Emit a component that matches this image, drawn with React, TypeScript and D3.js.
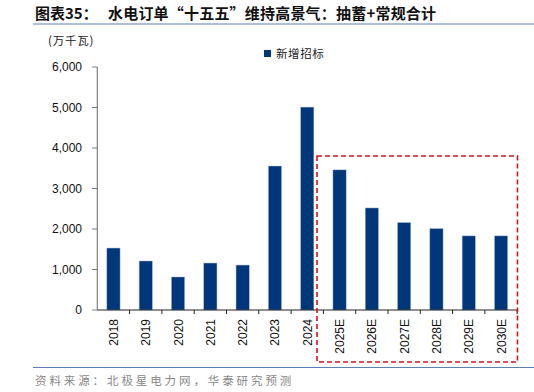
import React from "react";
import * as d3 from "d3";

const categories = ["2018","2019","2020","2021","2022","2023","2024","2025E","2026E","2027E","2028E","2029E","2030E"];
const values = [1530, 1210, 815, 1160, 1110, 3555, 5010, 3460, 2520, 2160, 2010, 1830, 1830];
const yTicks = [0, 1000, 2000, 3000, 4000, 5000, 6000];
const seriesName = "新增招标";
const titleLead = "图表35：";
const titleText = "水电订单“十五五”维持高景气：抽蓄+常规合计";
const unitText = "(万千瓦)";
const sourceText = "资料来源：北极星电力网，华泰研究预测";

export default function App() {
  const W = 534, H = 392;
  const left = 97.3, right = 517.2, top = 67, bottom = 310;
  const x = d3.scaleBand<string>().domain(categories).range([left, right]).paddingInner(0.59).paddingOuter(0.295);
  const y = d3.scaleLinear().domain([0, 6000]).range([bottom, top]);
  const fmt = d3.format(",");
  const step = x.step();
  const font = "'Liberation Sans', Arial, sans-serif";
  const cjk = "'Noto Sans CJK SC', sans-serif";
  return (
    <svg width={W} height={H} style={{ position: "absolute", left: 0, top: 0, background: "#fff" }}>
      <text x={35} y={19} fontFamily={cjk} fontWeight="bold" fontSize={15} fill="#111">{titleLead}</text>
      <text x={108} y={19} fontFamily={cjk} fontWeight="bold" fontSize={15} fill="#111" letterSpacing={0.2}>{titleText}</text>
      <line x1={33} x2={534} y1={24} y2={24} stroke="#5a7fb4" strokeWidth={1} />
      <text x={48} y={45} fontFamily={cjk} fontSize={11.5} fill="#222" letterSpacing={0.8}>{unitText}</text>
      <rect x={264} y={50} width={7} height={7} fill="#00367a" />
      <text x={276} y={57.5} fontFamily={cjk} fontSize={11.5} fill="#222" letterSpacing={0.6}>{seriesName}</text>
      {yTicks.map(t => (
        <g key={t}>
          <line x1={92} x2={left} y1={y(t)} y2={y(t)} stroke="#808080" />
          <text x={82} y={y(t)} dy="0.35em" textAnchor="end" fontFamily={font} fontSize={12} fill="#111">{fmt(t)}</text>
        </g>
      ))}
      <line x1={left} x2={left} y1={top} y2={bottom} stroke="#808080" strokeWidth={1.2} />
      {categories.map((c, i) => (
        <rect key={c} x={x(c)} y={y(values[i])} width={x.bandwidth()} height={bottom - y(values[i])} fill="#00367a" stroke="#a9bcd6" strokeWidth={0.5} />
      ))}
      <line x1={left} x2={right} y1={bottom} y2={bottom} stroke="#222" strokeWidth={1} />
      {categories.map((c, i) => (
        <line key={"t" + c} x1={left + step * (i + 1)} x2={left + step * (i + 1)} y1={bottom} y2={bottom + 4} stroke="#222" />
      ))}
      {categories.map(c => {
        const cx = (x(c) as number) + x.bandwidth() / 2;
        return (
          <text key={"l" + c} transform={`translate(${cx + 4.5},319) rotate(-90)`} textAnchor="end" fontFamily={font} fontSize={12} fill="#111">{c}</text>
        );
      })}
      <rect x={317} y={156} width={200.5} height={206} fill="none" stroke="#d0141c" strokeWidth={1.6} strokeDasharray="5,3" />
      <line x1={33} x2={534} y1={367.5} y2={367.5} stroke="#5a7fb4" strokeWidth={1} />
      <text x={35} y={385} fontFamily={cjk} fontSize={11.5} fill="#888" letterSpacing={2.9}>{sourceText}</text>
    </svg>
  );
}
